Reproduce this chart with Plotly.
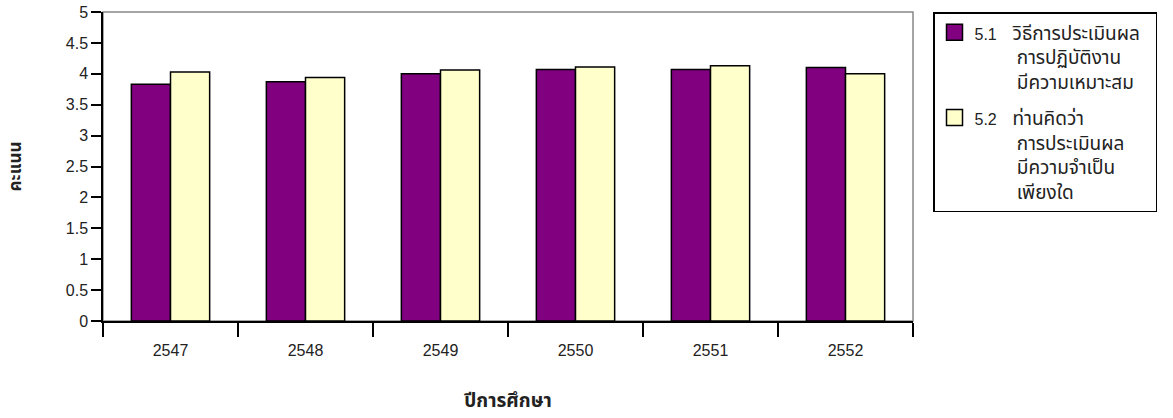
import plotly.graph_objects as go

years = ["2547", "2548", "2549", "2550", "2551", "2552"]
NB = "\u00a0" * 8
NUM = '<span style="font-size:16px">{}</span>'
s1_name = NUM.format("5.1") + "\u00a0\u00a0 วิธีการประเมินผล\u00a0\u00a0<br>" + NB + "การปฏิบัติงาน<br>" + NB + "มีความเหมาะสม"
s2_name = NUM.format("5.2") + "\u00a0\u00a0 ท่านคิดว่า<br>" + NB + "การประเมินผล<br>" + NB + "มีความจำเป็น<br>" + NB + "เพียงใด"
s1_values = [3.83, 3.87, 4.00, 4.07, 4.07, 4.10]
s2_values = [4.03, 3.94, 4.06, 4.11, 4.13, 4.00]
y_ticks = [0, 0.5, 1, 1.5, 2, 2.5, 3, 3.5, 4, 4.5, 5]
y_tick_text = ["0", "0.5", "1", "1.5", "2", "2.5", "3", "3.5", "4", "4.5", "5"]
colors = ["#800080", "#FFFFCC"]

FONT = "Liberation Sans, Noto Sans Thai, Noto Sans, sans-serif"

fig = go.Figure()
for vals, name, col in [(s1_values, s1_name, colors[0]), (s2_values, s2_name, colors[1])]:
    fig.add_trace(go.Bar(x=years, y=vals, name=name, showlegend=False, legendgroup=name,
                         marker=dict(color=col, line=dict(color="black", width=1.5))))
# legend-only swatches (larger squares like the reference)
for name, col in [(s1_name, colors[0]), (s2_name, colors[1])]:
    fig.add_trace(go.Scatter(x=[years[0]], y=[None], mode="markers", name=name, legendgroup=name,
                             marker=dict(symbol="square", size=16, color=col,
                                         line=dict(color="black", width=1.5)),
                             hoverinfo="skip"))

fig.update_layout(
    width=1173, height=418,
    margin=dict(l=103, r=260, t=12, b=97, autoexpand=False),
    paper_bgcolor="white", plot_bgcolor="white",
    barmode="group", bargap=0.42, bargroupgap=0,
    font=dict(family=FONT, size=16, color="#222"),
    showlegend=True,
    legend=dict(x=1.0247, y=1.0, xanchor="left", yanchor="top",
                bordercolor="black", borderwidth=1.5, bgcolor="white",
                font=dict(size=19, color="#222"), tracegroupgap=8,
                traceorder="grouped", valign="top", itemsizing="trace"),
    shapes=[dict(type="rect", xref="paper", yref="paper", x0=0, x1=1, y0=0, y1=1,
                 line=dict(color="#888", width=1.5), layer="below")],
)
fig.update_xaxes(
    type="category", showline=True, linecolor="black", linewidth=1.5,
    ticks="outside", tickson="boundaries", ticklen=14, tickcolor="black", tickwidth=1.5,
    showgrid=False, tickfont=dict(size=16, color="#222"), ticklabelstandoff=14,
    automargin=False, ticklabeloverflow="allow",
    title=dict(text="<b>ปีการศึกษา</b>", font=dict(size=19, color="#222"), standoff=36),
)
fig.update_yaxes(
    range=[0, 5], tickvals=y_ticks, ticktext=y_tick_text,
    showline=True, linecolor="black", linewidth=1.5,
    ticks="outside", ticklen=10, tickcolor="black", tickwidth=1.5,
    showgrid=False, zeroline=False, tickfont=dict(size=16, color="#222"),
    automargin=False, ticklabeloverflow="allow",
    title=dict(text="<b>คะแนน</b>", font=dict(size=17, color="#222"), standoff=40),
)

fig.write_html("out.html", config={"displayModeBar": False},
               post_script="document.body.style.margin='0';")
